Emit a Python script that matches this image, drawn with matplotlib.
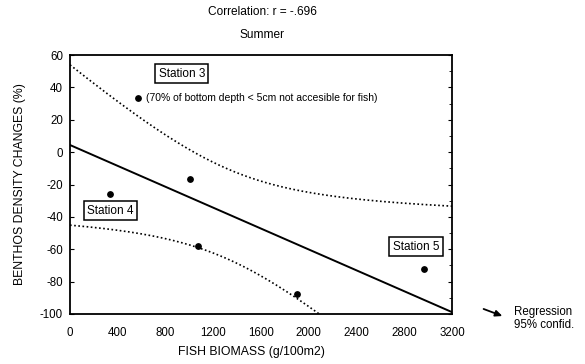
import numpy as np
import matplotlib
matplotlib.use("Agg")
import matplotlib.pyplot as plt

plt.rcParams['font.family'] = ['Liberation Sans', 'DejaVu Sans']
plt.rcParams['axes.unicode_minus'] = False

# Data
fish_biomass = [571, 337, 1002, 1069, 1905, 2963]
benthos_change = [33.6, -26, -16.7, -57.7, -87.7, -72.3]
x_ticks = [0, 400, 800, 1200, 1600, 2000, 2400, 2800, 3200]
y_ticks = [60, 40, 20, 0, -20, -40, -60, -80, -100]
station_labels = ["Station 3", "Station 4", "Station 5"]
station_pos = [(936, 48.3), (338, -36.3), (2899, -58.5)]
note = "(70% of bottom depth < 5cm not accesible for fish)"

x = np.array(fish_biomass, float)
y = np.array(benthos_change, float)
n = len(x)
slope, intercept = np.polyfit(x, y, 1)
xs = np.linspace(0, 3200, 200)
yfit = intercept + slope * xs
resid = y - (intercept + slope * x)
s = np.sqrt(np.sum(resid**2) / (n - 2))
sxx = np.sum((x - x.mean())**2)
se = s * np.sqrt(1 / n + (xs - x.mean())**2 / sxx)
upper = yfit + 1.96 * se
lower = yfit - 1.96 * se

fig = plt.figure(figsize=(5.85, 3.64), dpi=100)
ax = fig.add_axes([70/585, 1 - 314/364, (452-70)/585, (314-55)/364])

ax.plot(xs, yfit, color='black', lw=1.4)
ax.plot(xs, upper, color='black', lw=1.2, ls=(0, (1.0, 1.5)))
ax.plot(xs, lower, color='black', lw=1.2, ls=(0, (1.0, 1.5)))
ax.scatter(x, y, s=15, color='black', zorder=3)

ax.set_xlim(0, 3200)
ax.set_ylim(-100, 60)
ax.set_xticks(x_ticks)
ax.set_yticks(y_ticks)
ax.tick_params(direction='in', length=3, width=0.8, labelsize=8.3)
ax.tick_params(axis='x', bottom=False, pad=9)
ax.tick_params(axis='y', right=True, which='both', pad=5)
ax.set_yticks(np.arange(-90, 60, 20), minor=True)
ax.tick_params(axis='y', which='minor', left=False, right=True, direction='in', length=2)
for sp in ax.spines.values():
    sp.set_linewidth(1.3)

for lab, (px, py) in zip(station_labels, station_pos):
    ax.text(px, py, lab, ha='center', va='center', fontsize=8.5,
            bbox=dict(boxstyle='square,pad=0.3', fc='white', ec='black', lw=1.1))

ax.annotate(note, (fish_biomass[0], benthos_change[0]), xytext=(6, 0),
            textcoords='offset points', ha='left', va='center', fontsize=7.5)

ax.set_xlabel("FISH BIOMASS (g/100m2)", fontsize=8.8)
ax.xaxis.set_label_coords((251-70)/(452-70), -(352-314)/(314-55))
ax.xaxis.label.set_va('center')
ax.set_ylabel("BENTHOS DENSITY CHANGES (%)", fontsize=8.8, labelpad=10)

fig.text(262/585, 1 - 12/364, "Correlation: r = -.696", ha='center', va='center', fontsize=8.6)
fig.text(262/585, 1 - 35/364, "Summer", ha='center', va='center', fontsize=8.6)

# legend outside
fig.add_artist(matplotlib.patches.FancyArrowPatch(
    (481/585, 1 - 308/364), (505/585, 1 - 317/364), transform=fig.transFigure,
    arrowstyle='-|>,head_length=4,head_width=1.8', lw=1.3, color='black',
    mutation_scale=1))
fig.text(514/585, 1 - 312/364, "Regression", ha='left', va='center', fontsize=8.3)
fig.text(514/585, 1 - 325/364, "95% confid.", ha='left', va='center', fontsize=8.3)

fig.savefig("out.png", dpi=100)
